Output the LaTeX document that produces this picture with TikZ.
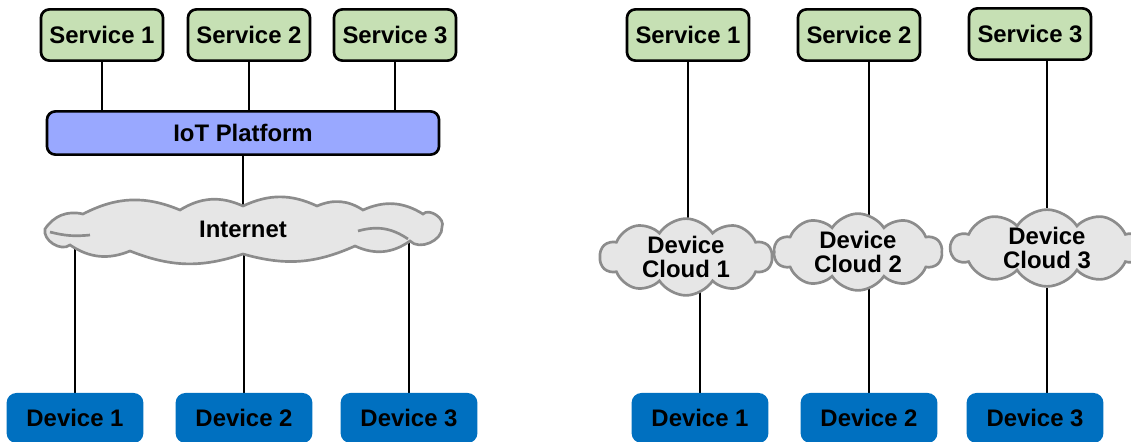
\documentclass[tikz,border=0pt]{standalone}
\usepackage{fontspec}
\setmainfont{Liberation Sans}
\usetikzlibrary{shapes.symbols, backgrounds}

\definecolor{servicegreen}{HTML}{C6E0B4}
\definecolor{platformblue}{HTML}{99A8FF}
\definecolor{cloudgray}{HTML}{E6E6E6}
\definecolor{cloudline}{HTML}{8C8C8C}
\definecolor{deviceblue}{HTML}{0070C0}

\begin{document}
\begin{tikzpicture}[x=0.025cm, y=-0.025cm,
        font=\fontsize{17}{17}\selectfont\bfseries,
        service/.style={draw, line width=1.9pt, rounded corners=6pt, fill=servicegreen,
            minimum width=3.05cm, minimum height=1.28cm},
        platform/.style={draw, line width=1.9pt, rounded corners=6pt, fill=platformblue,
            minimum width=9.8cm, minimum height=1.08cm},
        device/.style={fill=deviceblue, rounded corners=7pt,
            minimum width=3.42cm, minimum height=1.25cm},
        cloudbody/.style={draw=cloudline, line width=1.9pt, fill=cloudgray},
        cloudy/.style={cloud, cloud puffs=#1, cloud puff arc=115, cloud ignores aspect,
            cloudbody, inner sep=0pt, align=center},
        link/.style={line width=2pt}]
        \useasboundingbox (0,0) rectangle (1131,441);

        % left: one platform over one internet
        \node[service] (s1) at (102,35) {Service 1};
        \node[service] (s2) at (249,35) {Service 2};
        \node[service] (s3) at (395,35) {Service 3};
        \node[platform] (p) at (243,133) {IoT Platform};
        % the internet is a long flat cloud
        \draw[cloudbody] (45,229) to[bend left=35] (83,214) to[bend left=25] (180,210)
            to[bend left=28] (243,206) to[bend left=25] (317,206) to[bend left=28] (363,210)
            to[bend left=28] (423,214) to[bend left=80] (442,227) to[bend left=70] (410,241)
            to[bend left=30] (355,246) to[bend left=20] (243,254) to[bend left=20] (130,251)
            to[bend left=28] (70,245) to[bend left=70] (45,229) -- cycle;
        \draw[cloudbody, fill=none] (50,232) to[bend right=10] (90,235);
        \draw[cloudbody, fill=none] (358,231) to[bend left=25] (408,239);
        \node (n) at (243,229) {Internet};
        \node[device] (d1) at (75,418) {Device 1};
        \node[device] (d2) at (244,418) {Device 2};
        \node[device] (d3) at (409,418) {Device 3};

        % right: one device cloud per service
        \node[service] (t1) at (688,35) {Service 1};
        \node[service] (t2) at (859,35) {Service 2};
        \node[service] (t3) at (1030,34) {Service 3};
        \node[cloudy=10, minimum width=4.3cm, minimum height=1.85cm] (c1) at (686,257) {Device\\Cloud 1};
        \node[cloudy=10, minimum width=4.2cm, minimum height=1.85cm] (c2) at (858,252) {Device\\Cloud 2};
        \node[cloudy=10, minimum width=4.8cm, minimum height=1.85cm] (c3) at (1047,248) {Device\\Cloud 3};
        \node[device] (e1) at (700,418) {Device 1};
        \node[device] (e2) at (869,418) {Device 2};
        \node[device] (e3) at (1035,418) {Device 3};

        \begin{pgfonlayer}{background}
            \draw[link] (s1) -- (s1 |- p);
            \draw[link] (s2) -- (s2 |- p);
            \draw[link] (s3) -- (s3 |- p);
            \draw[link] (p) -- (p |- n);
            \draw[link] (n -| d1) -- (d1);
            \draw[link] (n -| d2) -- (d2);
            \draw[link] (n -| d3) -- (d3);

            \draw[link] (t1) -- (t1 |- c1);
            \draw[link] (t2 -| e2) -- (c2 -| e2);
            \draw[link] (t3 -| c3) -- (c3);
            \draw[link] (c1 -| e1) -- (e1);
            \draw[link] (c2 -| e2) -- (e2);
            \draw[link] (c3) -- (c3 |- e3);
        \end{pgfonlayer}
    \end{tikzpicture}
\end{document}
